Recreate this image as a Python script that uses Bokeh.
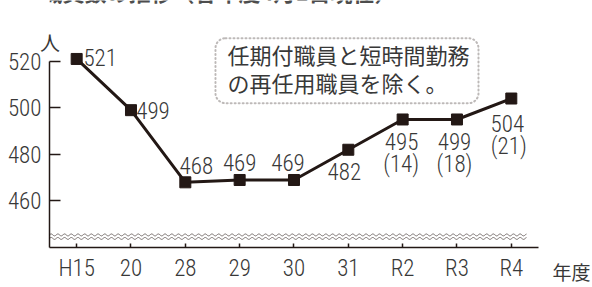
import numpy as np
from bokeh.plotting import figure
from bokeh.models import (FixedTicker, BoxAnnotation, Label, ColumnDataSource,
                          PolyAnnotation, Range1d)
from bokeh.core.properties import value
from bokeh.embed import file_html
from bokeh.resources import INLINE

# ---- data ----
years = ["H15", "20", "28", "29", "30", "31", "R2", "R3", "R4"]
plotted = [521, 499, 468, 469, 469, 482, 495, 495, 504]
main_labels = ["521", "499", "468", "469", "469", "482", "495", "499", "504"]
sub_labels = ["", "", "", "", "", "", "(14)", "(18)", "(21)"]
y_ticks = [460, 480, 500, 520]
title_text = "◆職員数の推移（各年度4月1日現在）"
y_unit = "人"
x_unit = "年度"
note_lines = ["任期付職員と短時間勤務", "の再任用職員を除く。"]

# ---- styles / layout ----
INK = "#231815"
TXT = "#383838"
NUM_FONT = "Roboto Condensed Light, Roboto Condensed, DejaVu Sans Condensed, Roboto, sans-serif"
CJK_FONT = "Noto Sans CJK JP"
FS = "23px"
W, H = 592, 287
LEFT, RIGHT, CAT_PX = 49, 21, 54.33      # frame borders and px per category
BOTTOM_BORDER, PX_PER_UNIT = 31, 2.4125
dx1 = [23.5, 22, 11, 0, -6, -4, -1, -2.5, -4]
dy1 = [-1, 0, -17, -17, -17, 22, 22, 22, 25]
dx2 = [0, 0, 0, 0, 0, 0, -1.5, -2.5, -2.5]
dy2 = [0, 0, 0, 0, 0, 0, 45, 45, 48]

xpos = [i + 0.5 for i in range(len(years))]
x_end = (W - LEFT - RIGHT) / CAT_PX
y_end = 440 + (H - BOTTOM_BORDER) / PX_PER_UNIT

p = figure(x_range=Range1d(0, x_end), y_range=Range1d(440, y_end), width=W, height=H,
           min_border_left=LEFT, min_border_right=RIGHT, min_border_top=0,
           min_border_bottom=BOTTOM_BORDER, output_backend="svg", toolbar_location=None)
p.outline_line_color = None
p.grid.visible = False
p.background_fill_color = "white"
p.border_fill_color = "white"

# axes
p.xaxis.ticker = FixedTicker(ticks=xpos)
p.xaxis.major_label_overrides = {x: t for x, t in zip(xpos, years)}
p.xaxis.bounds = (0, len(years))
p.yaxis.ticker = FixedTicker(ticks=y_ticks)
p.yaxis.bounds = (440, 520)
p.yaxis.major_tick_in = 11
p.yaxis.major_tick_out = 0
p.yaxis.major_label_standoff = 8
for ax in (p.xaxis, p.yaxis):
    ax.minor_tick_line_color = None
    ax.axis_line_color = INK
    ax.axis_line_width = 1.5
    ax.major_tick_line_color = INK
    ax.major_tick_line_width = 1.5
    ax.major_label_text_font = NUM_FONT
    ax.major_label_text_font_size = FS
    ax.major_label_text_color = TXT
    ax.axis_label_text_font = CJK_FONT
    ax.axis_label_text_font_style = "normal"
    ax.axis_label_text_color = TXT
p.xaxis.major_tick_in = 4
p.xaxis.major_tick_out = 0
p.xaxis.major_label_standoff = 7

# unit labels as axis labels (placed at the far ends of the axes)
p.xaxis.axis_label = x_unit
p.xaxis.axis_label_align = "end"
p.xaxis.axis_label_standoff = -27
p.xaxis.axis_label_text_font_size = "19px"
p.yaxis.axis_label = "\n\n\n" + y_unit
p.yaxis.axis_label_orientation = "horizontal"
p.yaxis.axis_label_align = "end"
p.yaxis.axis_label_standoff = -55
p.yaxis.axis_label_text_font_size = "20px"
p.yaxis.axis_label_text_line_height = 0.97

# wavy break lines (forward and back along the same path)
wx = np.linspace(-0.515, 8.78, 900)
wpx = wx * CAT_PX
for base in (445.4, 443.9):
    wy = base + 0.41 * np.sin(2 * np.pi * wpx / 6.7)
    p.add_layout(PolyAnnotation(xs=list(wx) + list(wx[::-1]), ys=list(wy) + list(wy[::-1]),
                                fill_alpha=0, line_color=INK, line_width=1))

# data line
src = ColumnDataSource(dict(x=xpos, y=plotted, t1=main_labels, t2=sub_labels,
                            dx1=dx1, dy1=dy1, dx2=dx2, dy2=dy2))
p.line("x", "y", source=src, line_color=INK, line_width=3)
p.scatter("x", "y", source=src, marker="square", size=11, fill_color=INK, line_color=INK)
for t, dx, dy in (("t1", "dx1", "dy1"), ("t2", "dx2", "dy2")):
    p.text("x", "y", text=t, x_offset=dx, y_offset=dy, source=src,
           text_align="center", text_baseline="alphabetic", text_font=value(NUM_FONT),
           text_font_size=FS, text_color=TXT)

# note box
p.add_layout(BoxAnnotation(left=3.055, right=7.896, top=529.9, bottom=502.0,
                           fill_alpha=0, line_color=INK, line_width=2,
                           line_dash="1 3", line_cap="round", border_radius=10))
for txt, yy in zip(note_lines, (523.1, 511.1)):
    p.add_layout(Label(x=3.276, y=yy, text=txt, text_font=CJK_FONT, text_font_size="22px",
                       text_color=TXT, text_baseline="middle", text_align="left"))

# title (cut off at the top, as in the reference)
p.add_layout(Label(x=-0.571, y=543.4, text=title_text, text_font=CJK_FONT, text_font_size="22px",
                   text_font_style="bold", text_color="#4d4d4d", text_baseline="bottom",
                   text_align="left"))

open("out.html", "w").write(file_html(p, INLINE))
